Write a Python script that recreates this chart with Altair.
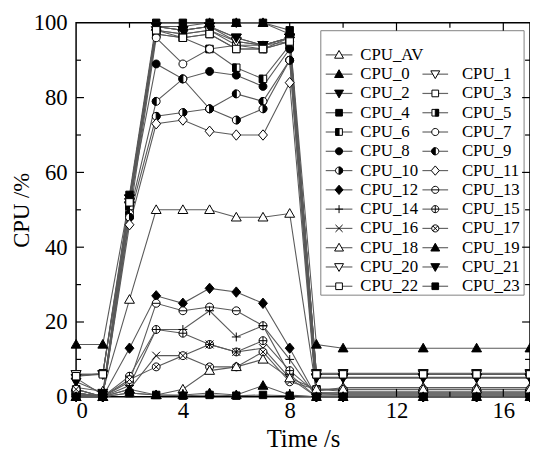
import altair as alt
import pandas as pd

# ---------------- data ----------------
TIME = [0, 1, 2, 3, 4, 5, 6, 7, 8, 9, 10, 13, 15, 17]

CPU_AV = [2.5, 1.5, 26, 50, 50, 50, 48, 48, 49, 1.5, 2.5, 2.5, 2.5, 2.5]
CPU_0 = [14, 14, 53, 99, 99, 100, 100, 100, 97, 14, 13, 13, 13, 13]
CPU_1 = [6, 6, 51, 98, 97, 98, 95, 94, 96, 6.3, 6.3, 6.3, 6.3, 6.3]
CPU_2 = [4, 1, 52, 99, 98, 99, 96, 94, 96, 5, 5, 5, 5, 5]
CPU_3 = [5.5, 6.3, 50, 97, 96, 97, 93, 93, 95, 6, 6, 6, 6, 6]
CPU_4 = [1, 0, 54, 100, 100, 100, 100, 100, 98, 1, 0.5, 0.5, 0.5, 0.5]
CPU_5 = [2, 0, 52, 98, 97, 98, 94, 93, 96, 2, 1.5, 1.5, 1.5, 1.5]
CPU_6 = [1, 0, 51, 97, 96, 93, 88, 85, 94, 1, 1, 1, 1, 1]
CPU_7 = [1, 0, 48, 96, 89, 93, 94, 94, 95, 0.5, 0.5, 0.5, 0.5, 0.5]
CPU_8 = [0.5, 0, 52, 89, 85, 87, 86, 83, 93, 0, 0, 0, 0, 0]
CPU_9 = [2, 0, 49, 79, 85, 77, 81, 79, 90, 1, 1, 1, 1, 1]
CPU_10 = [1, 0, 48, 75, 76, 77, 74, 77, 90, 0.5, 0.5, 0.5, 0.5, 0.5]
CPU_11 = [0, 0, 46, 73, 74, 71, 70, 70, 84, 0, 0, 0, 0, 0]
CPU_12 = [0.5, 0, 13, 27, 25, 29, 28, 25, 13, 0, 0, 0, 0, 0]
CPU_13 = [0, 0, 4, 25, 23, 24, 23, 19, 6, 0, 0, 0, 0, 0]
CPU_14 = [0, 0, 3, 18, 18, 23, 16, 19, 10, 0, 0, 0, 0, 0]
CPU_15 = [1, 0, 5.5, 18, 17, 14, 12, 15, 7, 1, 1, 1, 1, 1]
CPU_16 = [0, 0, 2, 11, 11, 14, 12, 13, 5, 0, 0, 0, 0, 0]
CPU_17 = [2, 0, 4.6, 8, 11, 8, 8, 12, 4, 2, 2, 2, 2, 2]
CPU_18 = [0, 0, 1, 0.5, 2, 7, 8, 10, 5, 2, 2, 2, 2, 2]
CPU_19 = [0, 0, 2, 0.5, 0.5, 1, 0.5, 3, 0.5, 0, 0, 0, 0, 0]
CPU_20 = [6, 6, 53, 99, 98, 99, 95, 94, 96, 6, 6, 6, 6, 6]
CPU_21 = [5, 0.5, 53, 99, 98, 99, 96, 94, 96, 5.2, 5.2, 5.2, 5.2, 5.2]
CPU_22 = [5.5, 6, 52, 98, 96, 97, 93, 93, 95, 6, 6, 6, 6, 6]
CPU_23 = [0, 0, 1, 0.5, 0.3, 0.5, 0.3, 0.5, 0.3, 0, 0, 0, 0, 0]

SERIES = ["CPU_AV"] + [f"CPU_{i}" for i in range(24)]
VALUES = [CPU_AV, CPU_0, CPU_1, CPU_2, CPU_3, CPU_4, CPU_5, CPU_6, CPU_7,
          CPU_8, CPU_9, CPU_10, CPU_11, CPU_12, CPU_13, CPU_14, CPU_15,
          CPU_16, CPU_17, CPU_18, CPU_19, CPU_20, CPU_21, CPU_22, CPU_23]

X_MAJOR = [0, 4, 8, 12, 16]
X_MINOR = [2, 6, 10, 14]
Y_MAJOR = [0, 20, 40, 60, 80, 100]
Y_MINOR = [10, 30, 50, 70, 90]

# ---------------- marker glyphs (unit paths) ----------------
PATHS = {
    "tri_up": "M0,-1L1,0.75L-1,0.75Z",
    "tri_dn": "M0,1L1,-0.75L-1,-0.75Z",
    "square": "M-0.75,-0.75H0.75V0.75H-0.75Z",
    "sq_left": "M-0.75,-0.75H0V0.75H-0.75Z",
    "sq_right": "M0,-0.75H0.75V0.75H0Z",
    "circle": "M0.8,0A0.8,0.8,0,1,1,-0.8,0A0.8,0.8,0,1,1,0.8,0Z",
    "c_left": "M0,-0.8A0.8,0.8,0,0,0,0,0.8Z",
    "c_right": "M0,-0.8A0.8,0.8,0,0,1,0,0.8Z",
    "diamond": "M0,-1.05L0.9,0L0,1.05L-0.9,0Z",
    "plus": "M-0.9,0H0.9M0,-0.9V0.9",
    "cross": "M-0.8,-0.8L0.8,0.8M-0.8,0.8L0.8,-0.8",
    "in_minus": "M-0.8,0H0.8",
    "in_plus": "M-0.8,0H0.8M0,-0.8V0.8",
    "in_x": "M-0.57,-0.57L0.57,0.57M-0.57,0.57L0.57,-0.57",
}
W_, B_ = "white", "black"
STYLE = {
    "CPU_AV": ("tri_up", W_, None),
    "CPU_0": ("tri_up", B_, None),
    "CPU_1": ("tri_dn", W_, None),
    "CPU_2": ("tri_dn", B_, None),
    "CPU_3": ("square", W_, None),
    "CPU_4": ("square", B_, None),
    "CPU_5": ("square", W_, "sq_right"),
    "CPU_6": ("square", W_, "sq_left"),
    "CPU_7": ("circle", W_, None),
    "CPU_8": ("circle", B_, None),
    "CPU_9": ("circle", W_, "c_left"),
    "CPU_10": ("circle", W_, "c_right"),
    "CPU_11": ("diamond", W_, None),
    "CPU_12": ("diamond", B_, None),
    "CPU_13": ("circle", W_, "in_minus"),
    "CPU_14": ("plus", W_, None),
    "CPU_15": ("circle", W_, "in_plus"),
    "CPU_16": ("cross", W_, None),
    "CPU_17": ("circle", W_, "in_x"),
    "CPU_18": ("tri_up", W_, None),
    "CPU_19": ("tri_up", B_, None),
    "CPU_20": ("tri_dn", W_, None),
    "CPU_21": ("tri_dn", B_, None),
    "CPU_22": ("square", W_, None),
    "CPU_23": ("square", B_, None),
}


def glyph_rows(name, x, y):
    base, fill, ovl = STYLE[name]
    rows = [dict(series=name, x=x, y=y, shape=PATHS[base], fill=fill)]
    if ovl:
        f = "black" if ovl.startswith(("sq_", "c_")) else "transparent"
        rows.append(dict(series=name, x=x, y=y, shape=PATHS[ovl], fill=f))
    return rows


line_rows, glyphs = [], []
for name, vals in zip(SERIES, VALUES):
    for t, v in zip(TIME, vals):
        line_rows.append(dict(series=name, x=t, y=v))
        glyphs += glyph_rows(name, t, v)
line_df = pd.DataFrame(line_rows)
glyph_df = pd.DataFrame(glyphs)

# ---------------- layout ----------------
W, H = 460, 379
XD, YD = [0, 17], [0, 100]


def dx(px):
    return XD[0] + px / W * (XD[1] - XD[0])


def dy(py):
    return YD[1] - py / H * (YD[1] - YD[0])


# legend placement (pixels inside plot area)
BOX = (248, 8, 454, 276)
ROW0, ROWH = 32.5, 19.54
COLS = [(253, 280, 266.5, 288), (351, 377, 364, 391)]

leg_entries = [("CPU_AV", 0, 0)] + [(f"CPU_{k}", 1 + k // 2, k % 2) for k in range(24)]
leg_lines, leg_text, leg_glyphs = [], [], []
for name, r, c in leg_entries:
    py = ROW0 + ROWH * r
    xa, xb, xm, xt = COLS[c]
    leg_lines.append(dict(x=dx(xa), x2=dx(xb), y=dy(py)))
    leg_text.append(dict(x=dx(xt), y=dy(py), label=name))
    leg_glyphs += glyph_rows(name, dx(xm), dy(py))
box_df = pd.DataFrame([dict(x=dx(BOX[0]), x2=dx(BOX[2]), y=dy(BOX[1]), y2=dy(BOX[3]))])

FONT = "Liberation Serif"
xs = alt.Scale(domain=XD, nice=False, zero=False)
ys = alt.Scale(domain=YD, nice=False, zero=False)
xaxis = alt.Axis(values=X_MAJOR, ticks=False, domain=False, grid=False,
                 labelFont=FONT, labelFontSize=23, labelColor="black",
                 labelPadding=3, title="Time /s", titleFont=FONT,
                 titleFontSize=25, titleFontWeight="normal", titleColor="black",
                 titlePadding=4)
yaxis = alt.Axis(values=Y_MAJOR, ticks=False, domain=False, grid=False,
                 labelFont=FONT, labelFontSize=23, labelColor="black",
                 labelPadding=9, title="CPU /%", titleFont=FONT,
                 titleFontSize=23, titleFontWeight="normal", titleColor="black",
                 titlePadding=0)


def X(f="x"):
    return alt.X(f"{f}:Q", scale=xs, axis=xaxis)


def Y(f="y"):
    return alt.Y(f"{f}:Q", scale=ys, axis=yaxis)


lines = alt.Chart(line_df).mark_line(color="#5a5a5a", strokeWidth=1.1).encode(
    x=X(), y=Y(), detail="series:N", order="x:Q")

points = alt.Chart(glyph_df).mark_point(filled=True, size=100, opacity=1, strokeWidth=1).encode(
    x=X(), y=Y(), shape=alt.Shape("shape:N", scale=None),
    fill=alt.Fill("fill:N", scale=None), stroke=alt.value("black"))

box = alt.Chart(box_df).mark_rect(fill="white", stroke="#808080", strokeWidth=1).encode(
    x=X(), x2="x2:Q", y=Y(), y2="y2:Q")

leg_l = alt.Chart(pd.DataFrame(leg_lines)).mark_rule(color="#666666", strokeWidth=1.2).encode(
    x=X(), x2="x2:Q", y=Y())

leg_p = alt.Chart(pd.DataFrame(leg_glyphs)).mark_point(filled=True, size=81, opacity=1, strokeWidth=1).encode(
    x=X(), y=Y(), shape=alt.Shape("shape:N", scale=None),
    fill=alt.Fill("fill:N", scale=None), stroke=alt.value("black"))

leg_t = alt.Chart(pd.DataFrame(leg_text)).mark_text(
    align="left", baseline="middle", font=FONT, fontSize=17, color="black").encode(
    x=X(), y=Y(), text="label:N")


def tick_layers(vals, length, axis):
    df = pd.DataFrame({"x": vals, "y": vals})
    base = alt.Chart(df).mark_rule(color="black", strokeWidth=1.2)
    if axis == "x":
        return [base.encode(x=X(), y=alt.value(H), y2=alt.value(H - length)),
                base.encode(x=X(), y=alt.value(0), y2=alt.value(length))]
    return [base.encode(y=Y(), x=alt.value(0), x2=alt.value(length)),
            base.encode(y=Y(), x=alt.value(W), x2=alt.value(W - length))]


ticks = (tick_layers(X_MAJOR[1:], 8, "x") + tick_layers(X_MINOR, 5, "x")
         + tick_layers(Y_MAJOR[1:-1], 8, "y") + tick_layers(Y_MINOR, 5, "y"))

chart = alt.layer(lines, points, box, leg_l, leg_p, leg_t, *ticks).properties(
    width=W, height=H,
    padding={"left": 69, "top": 12, "right": 0, "bottom": 58},
    autosize=alt.AutoSizeParams(type="none"),
).configure_view(stroke="black", strokeWidth=1.5).configure_text(font=FONT)

chart.save("out.html", embed_options={"renderer": "svg", "actions": False})
